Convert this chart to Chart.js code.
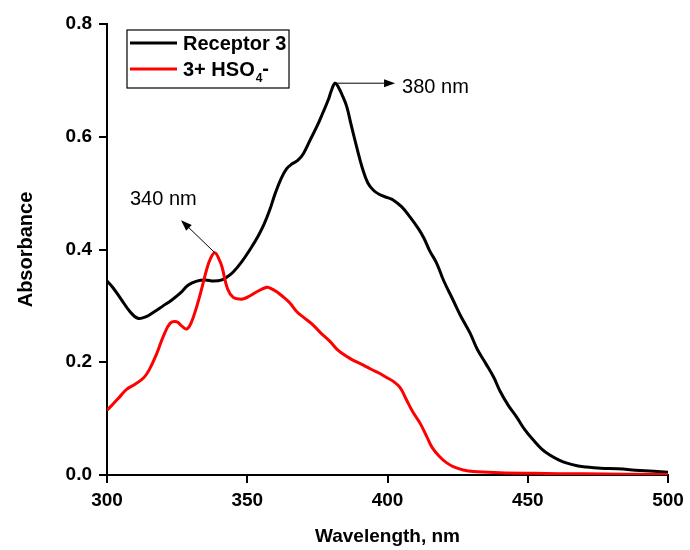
<!DOCTYPE html>
<html><head><meta charset="utf-8">
<script src="https://cdn.jsdelivr.net/npm/chart.js@4/dist/chart.umd.min.js"></script>
<style>html,body{margin:0;padding:0;background:#fff}#wrap{width:690px;height:550px}</style>
</head><body><div id="wrap"><canvas id="c" width="690" height="550"></canvas></div>
<script>
// ---- data ----
const wavelengthsReceptor = [300,302,305,308,311,314,317,320,323,326,329,332,335,338,341,343,345,348,351,354,356,358,360,362,364,366,368,370,372.4,375,377,379,380,381.3,382.5,384,385.5,387,389,391,393,395,397,400,402,405,408,411,413,415,417.5,420,423.4,426,429.4,432,435,438,440,443,446,449,452,455,458,461,464,468,471,476,482,490,500];
const absorbanceReceptor = [0.344,0.333,0.312,0.291,0.278,0.281,0.290,0.300,0.310,0.322,0.337,0.344,0.346,0.344,0.346,0.352,0.360,0.378,0.400,0.425,0.445,0.470,0.500,0.525,0.543,0.552,0.558,0.570,0.594,0.620,0.643,0.667,0.682,0.695,0.688,0.672,0.653,0.622,0.582,0.545,0.518,0.505,0.498,0.492,0.488,0.476,0.458,0.437,0.420,0.398,0.376,0.345,0.310,0.283,0.252,0.223,0.198,0.172,0.150,0.124,0.103,0.080,0.062,0.046,0.035,0.027,0.021,0.016,0.014,0.012,0.011,0.008,0.005];
const wavelengthsHSO4 = [300,302,304.6,307,310,313,315,317.7,320,322.5,324.8,326.5,328.4,330,332,334,335.5,337,338.5,340,341,343,345,347.4,349,351,353.4,356.9,358,360.5,362.8,365.2,367.6,370,373.5,376,379.5,382,385.5,388,391.4,394,397.3,400,402.1,404.5,406.8,409,411.6,414,416,418.7,421,423.4,427,430.5,440,452,470,500];
const absorbanceHSO4 = [0.115,0.125,0.139,0.152,0.161,0.172,0.186,0.215,0.245,0.269,0.272,0.265,0.259,0.270,0.299,0.335,0.364,0.385,0.394,0.382,0.369,0.330,0.315,0.312,0.313,0.318,0.325,0.333,0.332,0.325,0.316,0.305,0.290,0.280,0.266,0.253,0.237,0.223,0.210,0.203,0.195,0.188,0.180,0.172,0.166,0.155,0.133,0.112,0.092,0.068,0.048,0.032,0.022,0.015,0.009,0.006,0.004,0.003,0.002,0.001];
const xTicks = [300,350,400,450,500];
const yTicks = [0.0,0.2,0.4,0.6,0.8];
const seriesLabels = ['Receptor 3','3+ HSO₄-'];
const peakLabels = ['380 nm','340 nm'];
const peakWavelengths = [381.3,338.5];
const peakValues = [0.695,0.394];

// ---- chart ----
const FONT = "'Liberation Sans', Arial, sans-serif";
Chart.defaults.font.family = FONT;
Chart.defaults.color = '#000';

const toPts = (xs, ys) => xs.map((x,i)=>({x, y: ys[i]}));

// annotation geometry (in data units), kept separate from data
const annot = [
  {arrowTo:[402.7,0.695], text:[405.2,0.688]},
  {arrowTo:[326.4,0.452], text:[308.2,0.488]}
];

const annotationPlugin = {
  id:'annot',
  afterDatasetsDraw(chart){
    const {ctx, scales:{x,y}} = chart;
    ctx.save();
    ctx.strokeStyle='#000'; ctx.fillStyle='#000'; ctx.lineWidth=1;
    annot.forEach((a,i)=>{
      const x0=x.getPixelForValue(peakWavelengths[i]), y0=y.getPixelForValue(peakValues[i]);
      const x1=x.getPixelForValue(a.arrowTo[0]), y1=y.getPixelForValue(a.arrowTo[1]);
      const ang=Math.atan2(y1-y0,x1-x0), L=11, W=4;
      const bx=x1-L*Math.cos(ang), by=y1-L*Math.sin(ang);
      ctx.beginPath(); ctx.moveTo(x0,y0); ctx.lineTo(bx,by); ctx.stroke();
      ctx.beginPath(); ctx.moveTo(x1,y1);
      ctx.lineTo(bx+W*Math.sin(ang), by-W*Math.cos(ang));
      ctx.lineTo(bx-W*Math.sin(ang), by+W*Math.cos(ang));
      ctx.closePath(); ctx.fill();
      ctx.font = "20px "+FONT; ctx.textBaseline='middle'; ctx.textAlign='left';
      ctx.fillText(peakLabels[i], x.getPixelForValue(a.text[0]), y.getPixelForValue(a.text[1]));
    });
    ctx.restore();
  }
};

const legendPlugin = {
  id:'customLegend',
  afterDraw(chart){
    const {ctx, chartArea} = chart;
    const bx = chartArea.left+20, by = chartArea.top+6, bw=162, bh=58;
    ctx.save();
    ctx.fillStyle='#fff'; ctx.fillRect(bx,by,bw,bh);
    ctx.strokeStyle='#000'; ctx.lineWidth=1.2; ctx.strokeRect(bx,by,bw,bh);
    const ds = chart.data.datasets;
    const rows=[by+13, by+39];
    ctx.textBaseline='middle'; ctx.textAlign='left';
    rows.forEach((ry,i)=>{
      ctx.strokeStyle = ds[i].borderColor; ctx.lineWidth=3;
      ctx.beginPath(); ctx.moveTo(bx+3,ry); ctx.lineTo(bx+50,ry); ctx.stroke();
      ctx.fillStyle='#000';
      const tx = bx+56;
      const label = seriesLabels[i];
      const m = label.match(/^(.*?)([₀-₉]+)(.*)$/);
      ctx.font = "bold 20px "+FONT;
      if(!m){ ctx.fillText(label, tx, ry+1); }
      else {
        ctx.fillText(m[1], tx, ry+1);
        let w = ctx.measureText(m[1]).width;
        const sub = m[2].replace(/[₀-₉]/g, c=>String.fromCharCode(c.charCodeAt(0)-0x2080+48));
        ctx.font = "bold 12px "+FONT;
        ctx.fillText(sub, tx+w+1, ry+10);
        w += ctx.measureText(sub).width+1;
        ctx.font = "bold 20px "+FONT;
        ctx.fillText(m[3], tx+w, ry);
      }
    });
    ctx.restore();
  }
};

new Chart(document.getElementById('c'), {
  type:'line',
  data:{datasets:[
    {label:seriesLabels[0], data:toPts(wavelengthsReceptor,absorbanceReceptor), borderColor:'#000', borderWidth:3, pointRadius:0, tension:0.4, fill:false, order:1},
    {label:seriesLabels[1], data:toPts(wavelengthsHSO4,absorbanceHSO4), borderColor:'#ff0000', borderWidth:3, pointRadius:0, tension:0.4, fill:false, order:0}
  ]},
  options:{
    responsive:false, animation:false,
    layout:{padding:{left:0,top:24,right:22,bottom:0}},
    plugins:{legend:{display:false}, tooltip:{enabled:false}},
    scales:{
      x:{type:'linear', min:300, max:500,
        afterBuildTicks:s=>{s.ticks=xTicks.map(v=>({value:v}));},
        afterFit:s=>{s.height=75;},
        ticks:{font:{size:19,weight:'bold'}, color:'#000', padding:6, maxRotation:0, autoSkip:false, callback:v=>String(v)},
        grid:{drawOnChartArea:false, drawTicks:true, tickLength:8, color:'#000', lineWidth:2},
        border:{display:true, color:'#000', width:2},
        title:{display:true, text:'Wavelength, nm', font:{size:19,weight:'bold'}, color:'#000', padding:{top:0,bottom:2}}
      },
      y:{type:'linear', min:0, max:0.8,
        afterBuildTicks:s=>{s.ticks=yTicks.map(v=>({value:v}));},
        afterFit:s=>{s.width=107;},
        ticks:{font:{size:19,weight:'bold'}, color:'#000', padding:7, autoSkip:false, callback:v=>Number(v).toFixed(1)},
        grid:{drawOnChartArea:false, drawTicks:true, tickLength:8, color:'#000', lineWidth:2},
        border:{display:true, color:'#000', width:2},
        title:{display:true, text:'Absorbance', font:{size:20,weight:'bold'}, color:'#000', padding:{top:14,bottom:0}}
      }
    }
  },
  plugins:[annotationPlugin, legendPlugin]
});
</script></body></html>
